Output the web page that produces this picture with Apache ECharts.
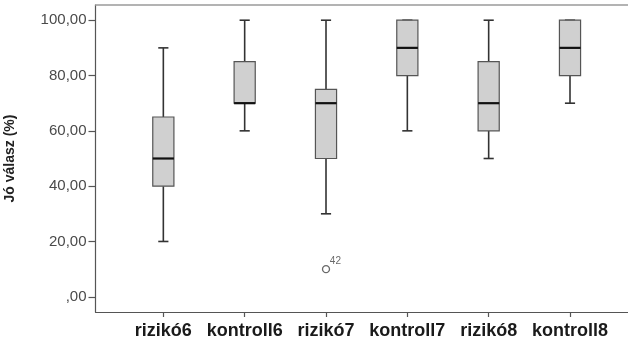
<!DOCTYPE html>
<html>
<head>
<meta charset="utf-8">
<script src="https://cdn.jsdelivr.net/npm/echarts@6/dist/echarts.min.js"></script>
<style>
  html, body { margin: 0; padding: 0; background: #fff; }
  #chart { width: 628px; height: 340px; }
</style>
</head>
<body>
<div id="chart"></div>
<script>
// Box plot summaries per group (percent of correct answers)
const categories   = ['rizikó6', 'kontroll6', 'rizikó7', 'kontroll7', 'rizikó8', 'kontroll8'];
const whiskerLow   = [20, 60, 30, 60, 50, 70];
const quartile1    = [40, 70, 50, 80, 60, 80];
const medians      = [50, 70, 70, 90, 70, 90];
const quartile3    = [65, 85, 75, 100, 85, 100];
const whiskerHigh  = [90, 100, 100, 100, 100, 100];

// Outliers: group, value, case number
const outlierCategory = ['rizikó7'];
const outlierValue    = [10];
const outlierCase     = ['42'];

// Value axis tick labels
const yTicks = [0, 20, 40, 60, 80, 100];

const Y_MIN = -5.5, Y_MAX = 105.5;
const FONT = 'Liberation Sans, Arial, sans-serif';

const boxData = categories.map((c, i) =>
  [i, whiskerLow[i], quartile1[i], medians[i], quartile3[i], whiskerHigh[i]]);
const outlierData = outlierValue.map((v, k) =>
  [categories.indexOf(outlierCategory[k]), v, outlierCase[k]]);

function fmtComma(v) {
  if (v === 0) return ',00';
  return v.toFixed(2).replace('.', ',');
}

function renderBox(params, api) {
  const idx = api.value(0);
  const band = api.size([1, 0])[0];
  const boxW = band * 0.26;
  const capW = band * 0.125;
  const lo = api.coord([idx, api.value(1)]);
  const q1 = api.coord([idx, api.value(2)]);
  const md = api.coord([idx, api.value(3)]);
  const q3 = api.coord([idx, api.value(4)]);
  const hi = api.coord([idx, api.value(5)]);
  const x = lo[0];
  const lineStyle = { stroke: '#333', lineWidth: 1.6 };
  return {
    type: 'group',
    children: [
      { type: 'line', shape: { x1: x, y1: lo[1], x2: x, y2: q1[1] }, style: lineStyle },
      { type: 'line', shape: { x1: x, y1: q3[1], x2: x, y2: hi[1] }, style: lineStyle },
      { type: 'line', shape: { x1: x - capW / 2, y1: lo[1], x2: x + capW / 2, y2: lo[1] }, style: lineStyle },
      { type: 'line', shape: { x1: x - capW / 2, y1: hi[1], x2: x + capW / 2, y2: hi[1] }, style: lineStyle },
      { type: 'rect', shape: { x: x - boxW / 2, y: q3[1], width: boxW, height: q1[1] - q3[1] },
        style: { fill: '#d0d0d0', stroke: '#555', lineWidth: 1.2 } },
      { type: 'line', shape: { x1: x - boxW / 2, y1: md[1], x2: x + boxW / 2, y2: md[1] },
        style: { stroke: '#111', lineWidth: 2.2 } }
    ]
  };
}

const chart = echarts.init(document.getElementById('chart'), null, { renderer: 'canvas' });
chart.setOption({
  animation: false,
  backgroundColor: '#fff',
  grid: [
    // plotting band for the six groups
    { left: 122.67, right: 17.33, top: 5, bottom: 28, outerBoundsMode: 'none', containLabel: false },
    // outer frame carrying the value axis
    { left: 95.5, right: 0, top: 5, bottom: 28, outerBoundsMode: 'none', containLabel: false }
  ],
  xAxis: [
    {
      type: 'category', gridIndex: 0, data: categories, position: 'bottom',
      axisLine: { show: true, onZero: false, lineStyle: { color: '#555', width: 1.2 } },
      axisTick: { show: true, interval: 0, alignWithLabel: true, length: 5,
        lineStyle: { color: '#555', width: 1.2 } },
      axisLabel: { interval: 0, color: '#1a1a1a', fontFamily: FONT, fontSize: 18,
        fontWeight: 'bold', margin: 10 },
      splitLine: { show: false }
    },
    {
      type: 'value', gridIndex: 1, position: 'bottom', min: 0, max: 1,
      axisLine: { show: true, onZero: false, lineStyle: { color: '#555', width: 1.2 } },
      axisTick: { show: false }, axisLabel: { show: false }, splitLine: { show: false }
    },
    {
      type: 'value', gridIndex: 1, position: 'top', min: 0, max: 1,
      axisLine: { show: true, onZero: false, lineStyle: { color: '#9a9a9a', width: 1.5 } },
      axisTick: { show: false }, axisLabel: { show: false }, splitLine: { show: false }
    }
  ],
  yAxis: [
    {
      type: 'value', gridIndex: 0, min: Y_MIN, max: Y_MAX, show: false,
      axisLine: { onZero: false }
    },
    {
      type: 'value', gridIndex: 1, min: Y_MIN, max: Y_MAX, position: 'left',
      name: 'Jó válasz (%)', nameLocation: 'middle', nameRotate: 90, nameGap: 78,
      nameTextStyle: { color: '#222', fontFamily: FONT, fontSize: 14, fontWeight: 'bold' },
      axisLine: { show: true, onZero: false, lineStyle: { color: '#555', width: 1.2 } },
      axisTick: { show: true, inside: false, customValues: yTicks, length: 7,
        lineStyle: { color: '#555', width: 1.2 } },
      axisLabel: { customValues: yTicks, formatter: fmtComma, color: '#4a4a4a',
        fontFamily: FONT, fontSize: 15, margin: 9 },
      splitLine: { show: false }
    }
  ],
  series: [
    {
      type: 'custom', xAxisIndex: 0, yAxisIndex: 0,
      renderItem: renderBox,
      encode: { x: 0, y: [1, 2, 3, 4, 5] },
      data: boxData
    },
    {
      type: 'scatter', xAxisIndex: 0, yAxisIndex: 0,
      symbol: 'circle', symbolSize: 7,
      itemStyle: { color: '#fff', borderColor: '#444', borderWidth: 1.3 },
      label: {
        show: true, position: [8, -9],
        formatter: p => p.data[2],
        color: '#444', fontFamily: FONT, fontSize: 10
      },
      data: outlierData
    }
  ]
});
</script>
</body>
</html>
